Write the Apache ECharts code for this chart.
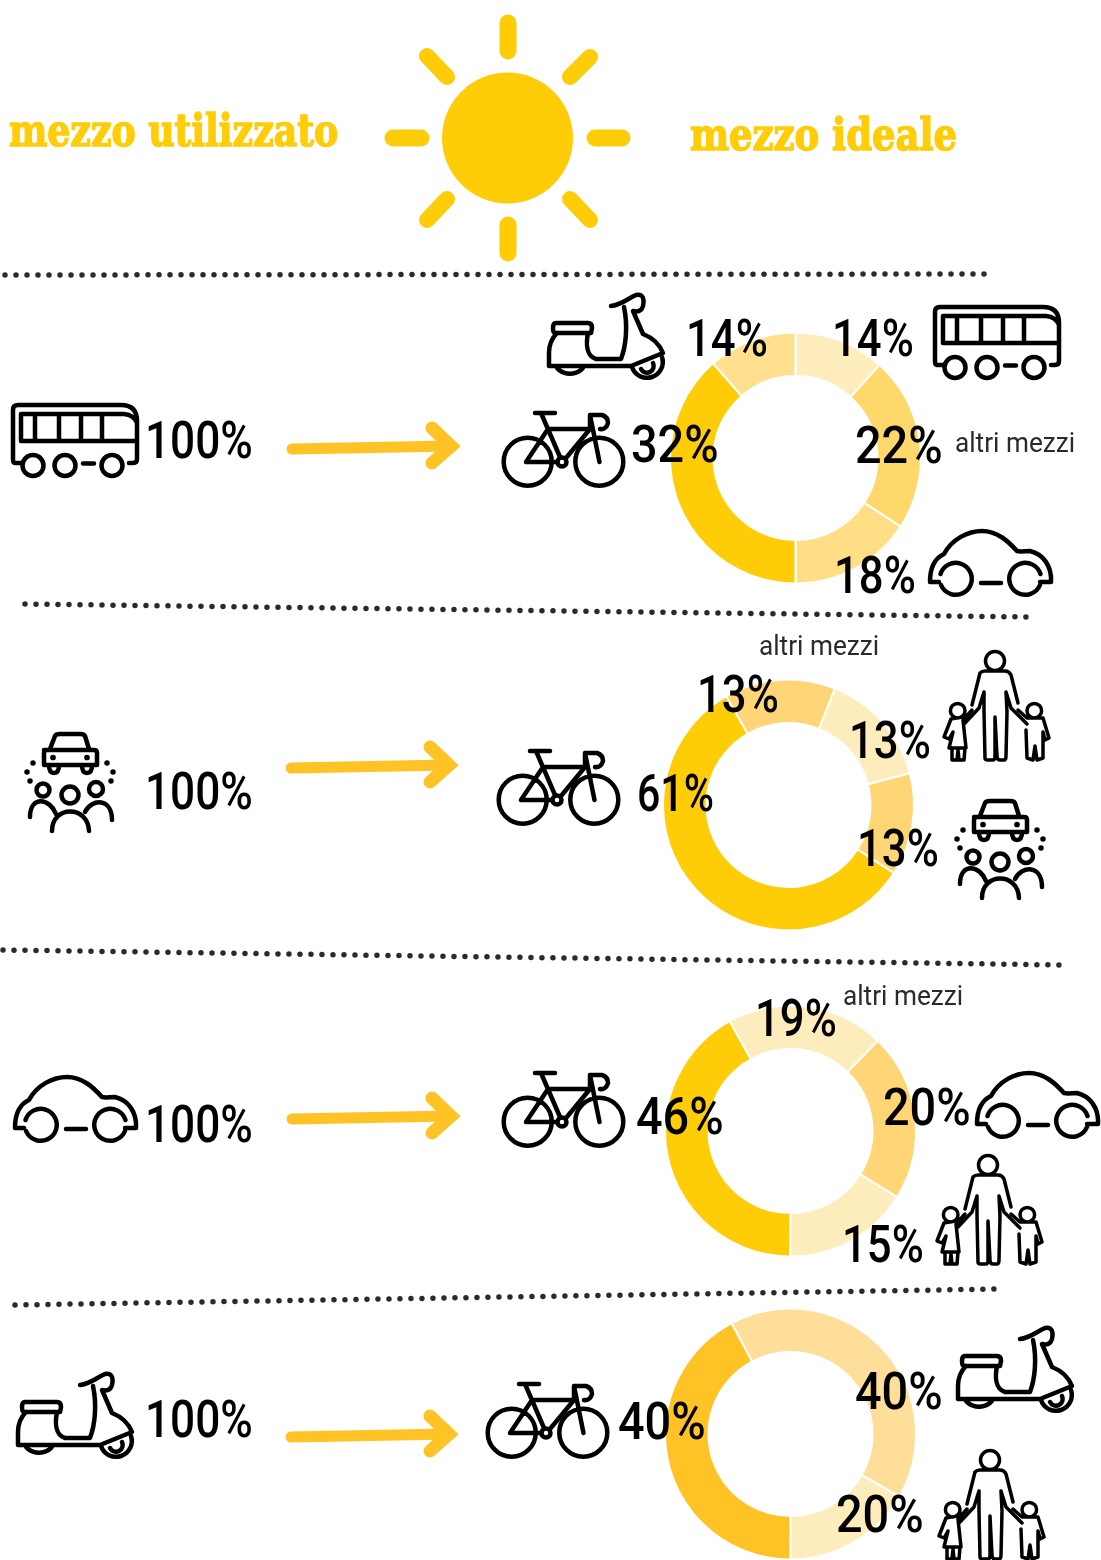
<!DOCTYPE html>
<html>
<head>
<meta charset="utf-8">
<title>mezzo utilizzato / mezzo ideale</title>
<script src="https://cdn.jsdelivr.net/npm/echarts@6/dist/echarts.min.js"></script>
<style>
  html, body { margin: 0; padding: 0; background: #fff; }
  #container { width: 1101px; height: 1560px; }
</style>
</head>
<body>
<div id="container"></div>
<script>
var headings = ['mezzo utilizzato', 'mezzo ideale'];
var otherLabel = 'altri mezzi';
var fullLabel = '100%';

var busCats = ['bus', 'altri mezzi', 'auto', 'bici', 'scooter'];
var busShares = [11.7, 22.5, 15.8, 38.6, 11.4];
var busLabels = ['14%', '22%', '18%', '32%', '14%'];

var peopleCats = ['famiglia', 'car pooling', 'bici', 'altri mezzi'];
var peopleShares = [14.9, 13.2, 57.6, 14.3];
var peopleLabels = ['13%', '13%', '61%', '13%'];

var carCats = ['altri mezzi', 'auto', 'famiglia', 'bici'];
var carShares = [20.3, 21.6, 16.2, 41.9];
var carLabels = ['19%', '20%', '15%', '46%'];

var scooterCats = ['scooter', 'famiglia', 'bici'];
var scooterShares = [41.1, 16.7, 42.2];
var scooterLabels = ['40%', '20%', '40%'];

/* Colours */
var SUN = '#FFCD07';
var ARROW = '#FFC326';

function circ(cx, cy, r) {
  return 'M' + (cx - r) + ',' + cy + ' a' + r + ',' + r + ' 0 1,0 ' + (2 * r) + ',0 a' + r + ',' + r + ' 0 1,0 ' + (-2 * r) + ',0 ';
}

/* Icons, hand traced in local coordinates */
var ICONS = {
  bus: 'M21,72 L15,72 Q13,72 13,68 L13,19 Q13,14 18,14 L121,14 Q137,14 137,30 L137,68 Q137,72 133,72 L129,72 ' +
       'M137,50 L21,50 L21,23 L124,23 Q134,24 137,32 M35,23 L35,50 M59,23 L59,50 M81,23 L81,50 M102,23 L102,50 ' +
       circ(33, 74.5, 10.5) + circ(65, 74.5, 10.5) + circ(112, 74.5, 10.5) + 'M83,72.5 L94,72.5',
  car: 'M24,68 L15,68 C15,55 18,45 29,40 C37,25 53,17 67,17 C82,17 93,27 102,37 C106,38 110,37 115,37 C128,40 137,52 136,68 L125,68 ' +
       'M25.5,60 A16,16 0 1 1 26,71 M125.5,60 A16,16 0 1 0 125,71 M66,69 L86,69',
  scooter: 'M25,42 L57,42 Q61,42 61,47 L60,52 L24,52 Q22,52 22,47 Q22,42 25,42 Z ' +
       'M26,52 C20,58 18,65 18,72 L18,85 L100,85 L132,72 C128,62 122,57 112,53 L102,30 Q110,32 112,25 C114,15 110,13 105,14 C96,18 90,24 80,25 ' +
       'M93,26 C97,45 95,65 90,78 L65,78 C55,75 55,62 57,52 ' +
       'M25,85 A15,12 0 0 0 53,85 M101,86 A15,15 0 1 0 131,76 M110,88 A6,6 0 0 0 122,82',
  bike: circ(37.7, 61.7, 24) + circ(109.3, 61.7, 24) +
       'M36,62 L67,62 M76,58 L100,29 L58,29 L36,62 M51,13 L70,57 M45,13 L65,13 M100,29 L100,15 L112,15 Q118,17 118,23 Q116,30 110,29 M100,15 L109.5,62 ' +
       circ(72, 62, 4.5),
  people: 'M50,29 L55,16 Q56,14 60,14 L80,14 Q84,14 85,16 L89,29 M44,30 L94,30 Q97,30 97,33 L97,45 L44,45 L44,33 Q44,30 47,30 Z ' +
       'M49,45 Q49,53 54,53 Q59,53 59,45 M82,45 Q82,53 87,53 Q92,53 92,45 ' +
       circ(53, 37.5, 0.6) + circ(87, 37.5, 0.6) +
       circ(33, 43, 0.5) + circ(27, 52, 0.5) + circ(30, 61, 0.5) + circ(107, 43, 0.5) + circ(113, 52, 0.5) + circ(111, 61, 0.5) +
       circ(43, 70, 6.5) + circ(70, 75, 8.5) + circ(96, 69, 7) +
       'M30,97 C30,75 50,78 56,94 M52,111 C52,85 88,85 89,111 M85,92 C92,78 112,78 112,100',
  family: circ(95, 21, 9.5) +
       'M72,65 L80,33 Q82,31 85,31 L105,31 Q109,31 111,35 L118,63 M84,52 L79,68 L65,83 M106,52 L111,68 L127,84 ' +
       'M84,52 L84,72 L85,118 Q85,120 88,120 L93,120 Q95,120 95,116 L95,77 L97,116 Q97,120 100,120 L104,120 Q106,120 106,116 L107,72 L106,52 ' +
       circ(57.7, 70.7, 7.3) + circ(134.3, 70.7, 7.3) +
       'M72,70 L63,80 L66,108 L49,108 L53,92 L49,99 L44,97 L51,79 L56,78 M52,108 L52,120 L57,120 L58,110 L59,120 L64,120 L65,108 ' +
       'M118,70 L127,78 L143,78 L149,98 L145,100 L143,92 L143,118 L137,120 L135,106 L133,120 L127,118 L126,90'
};

Object.keys(ICONS).forEach(function (k) {
  echarts.graphic.registerShape('icon-' + k, echarts.graphic.extendPath(ICONS[k], {}));
});

var graphics = [];

function addIcon(name, x, y) {
  graphics.push({
    type: 'icon-' + name, x: x, y: y, z: 10, silent: true,
    style: { fill: 'none', stroke: '#000', lineWidth: name === 'family' ? 3.5 : 4.5, lineCap: 'round', lineJoin: 'round' }
  });
}

function addText(str, x, y, size, color, family, weight, sx, bold) {
  graphics.push({
    type: 'text', x: x, y: y, z: 11, silent: true, scaleX: sx || 1,
    style: {
      text: str, fill: color, font: (weight || 'normal') + ' ' + size + 'px ' + family,
      stroke: bold ? color : null, lineWidth: bold || 0,
      align: 'left', verticalAlign: 'middle'
    }
  });
}

var PCT_FONT = 'Roboto, sans-serif';
var SLAB_FONT = '"DejaVu Serif", serif';

function pct(str, x, y, sx) {
  // the original face has a narrow "1", so labels without one run wider
  addText(str, x - 2, y + 4, 52, '#000', PCT_FONT, '500', sx || (str.indexOf('1') >= 0 ? 0.84 : 0.9));
}
function other(x, y) { addText(otherLabel, x, y + 2, 27, '#2b2a29', PCT_FONT, 'normal', 0.97); }

function addLine(pts, width, color, dash) {
  graphics.push({
    type: 'polyline', z: 5, silent: true,
    shape: { points: pts },
    style: { fill: 'none', stroke: color, lineWidth: width, lineCap: 'round', lineJoin: 'miter', lineDash: dash || null }
  });
}

function addArrow(x0, y0, x1, y1) {
  addLine([[x0, y0], [x1 - 9, y1]], 11, ARROW);
  addLine([[x1 - 28, y1 - 18], [x1 - 9, y1], [x1 - 28, y1 + 17]], 13, ARROW);
}

/* Sun */
graphics.push({ type: 'circle', z: 5, silent: true, shape: { cx: 507.5, cy: 138, r: 65.5 }, style: { fill: SUN } });
[
  [[508, 23], [508, 51]], [[508, 225], [508, 253]],
  [[393, 138], [421, 138]], [[595, 138], [622, 138]],
  [[427, 56], [447, 77]], [[590, 57], [570, 77]],
  [[447, 199], [427, 220]], [[570, 199], [590, 220]]
].forEach(function (r, i) { addLine(r, i < 4 ? 17 : 16, SUN); });

addText(headings[0], 9, 135, 44, SUN, SLAB_FONT, 'bold', 0.823, 1.5);
addText(headings[1], 690, 139, 44, SUN, SLAB_FONT, 'bold', 0.84, 1.5);

/* Dotted separators */
var DOTS = [0, 11];
addLine([[5, 275], [985, 274]], 5.5, '#2b2a29', DOTS);
addLine([[25, 604], [1027, 617]], 5.5, '#2b2a29', DOTS);
addLine([[3, 950], [1063, 965]], 5.5, '#2b2a29', DOTS);
addLine([[15, 1305], [998, 1289]], 5.5, '#2b2a29', DOTS);

/* Arrows */
addArrow(292, 449, 460, 446);
addArrow(291, 768, 458, 765);
addArrow(292, 1119, 460, 1116);
addArrow(291, 1437, 458, 1434);

/* Row 1: bus */
addIcon('bus', 0, 391);
pct(fullLabel, 147, 441, 0.85);
addIcon('scooter', 531, 281);
addIcon('bike', 490, 400);
addIcon('bus', 922, 293);
addIcon('car', 915, 514);
pct(busLabels[4], 688, 339);
pct(busLabels[0], 834, 339);
pct(busLabels[3], 633, 445);
pct(busLabels[1], 857, 446);
pct(busLabels[2], 836, 576);
other(955, 443);

/* Row 2: car pooling */
addIcon('people', 0, 720);
pct(fullLabel, 147, 792, 0.85);
addIcon('bike', 485, 738);
addIcon('family', 900, 640);
addIcon('people', 930, 787);
pct(peopleLabels[2], 639, 794, 0.79);
pct(peopleLabels[3], 699, 695);
pct(peopleLabels[0], 851, 741);
pct(peopleLabels[1], 859, 849);
other(759, 646);

/* Row 3: car */
addIcon('car', 0, 1060);
pct(fullLabel, 147, 1125, 0.85);
addIcon('bike', 490, 1060);
addIcon('car', 962, 1056);
addIcon('family', 893, 1144);
pct(carLabels[3], 638, 1117);
pct(carLabels[0], 757, 1019);
pct(carLabels[1], 885, 1108);
pct(carLabels[2], 844, 1245);
other(843, 996);

/* Row 4: scooter */
addIcon('scooter', 0, 1360);
pct(fullLabel, 147, 1420, 0.85);
addIcon('bike', 474, 1371);
addIcon('scooter', 940, 1314);
addIcon('family', 895, 1439);
pct(scooterLabels[2], 620, 1422);
pct(scooterLabels[0], 857, 1392);
pct(scooterLabels[1], 838, 1515);

function donut(name, cats, shares, colors, center, start) {
  return {
    name: name,
    type: 'pie',
    center: center,
    radius: [82, 125.5],
    startAngle: start,
    clockwise: true,
    silent: true,
    animation: false,
    label: { show: false },
    labelLine: { show: false },
    itemStyle: { borderColor: '#fff', borderWidth: 2 },
    data: cats.map(function (c, i) {
      return { name: c, value: shares[i], itemStyle: { color: colors[i] } };
    })
  };
}

var dom = document.getElementById('container');
var myChart = echarts.init(dom);

var option = {
  backgroundColor: '#fff',
  animation: false,
  series: [
    donut('bus', busCats, busShares, ['#FFEDBB', '#FFD86B', '#FFDE85', SUN, '#FFE08F'], [795.5, 458], 90),
    donut('car pooling', peopleCats, peopleShares, ['#FEEDBC', '#FFD575', SUN, '#FFD575'], [788.5, 805], 68.3),
    donut('auto', carCats, carShares, ['#FEEDBC', '#FFD575', '#FEEDBC', SUN], [790.5, 1131], 119),
    donut('scooter', scooterCats, scooterShares, ['#FFDE9A', '#FEEDBC', ARROW], [790.5, 1434], 118)
  ],
  graphic: { elements: graphics }
};

myChart.setOption(option);
</script>
</body>
</html>
